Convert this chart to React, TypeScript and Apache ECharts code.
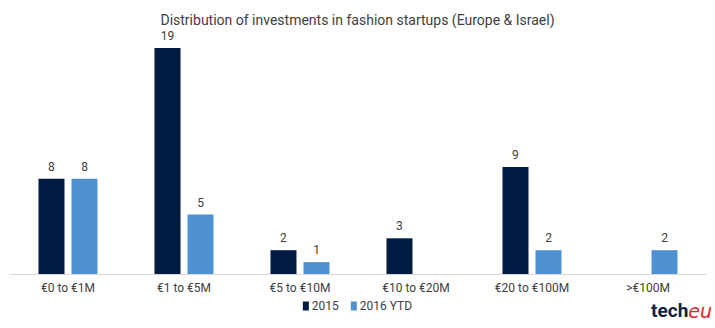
import React, { useEffect, useRef } from "react";
import * as echarts from "echarts";

const categories = ["€0 to €1M", "€1 to €5M", "€5 to €10M", "€10 to €20M", "€20 to €100M", ">€100M"];
const values2015 = [8, 19, 2, 3, 9, null];
const values2016 = [8, 5, 1, null, 2, 2];
const seriesNames = ["2015", "2016 YTD"];

export default function App() {
  const ref = useRef<HTMLDivElement>(null);
  useEffect(() => {
    if (!ref.current) return;
    const chart = echarts.init(ref.current, null, { renderer: "svg" });
    const font = "Roboto, 'Open Sans', sans-serif";
    chart.setOption({
      animation: false,
      backgroundColor: "#ffffff",
      title: {
        text: "Distribution of investments in fashion startups (Europe & Israel)",
        left: "center",
        top: 8,
        textStyle: { fontSize: 14, fontWeight: "normal", color: "#404040", fontFamily: font },
      },
      legend: {
        data: seriesNames,
        bottom: 11,
        left: "center",
        itemWidth: 6,
        itemHeight: 9,
        itemGap: 12,
        icon: "rect",
        textStyle: { fontSize: 12, color: "#404040", fontFamily: font, padding: [0, 0, 0, -2] },
      },
      grid: { left: 10, right: 9, top: 36, bottom: 54, containLabel: false },
      xAxis: {
        type: "category",
        data: categories,
        axisLine: { lineStyle: { color: "#d9d9d9", width: 1 } },
        axisTick: { show: false },
        axisLabel: { color: "#404040", fontSize: 12, fontFamily: font, margin: 8 },
      },
      yAxis: { type: "value", min: 0, max: 20, show: false, splitLine: { show: false } },
      series: [
        {
          name: seriesNames[0],
          type: "bar",
          data: values2015,
          barWidth: 26,
          barGap: "27%",
          itemStyle: { color: "#001b41" },
          label: { show: true, position: "top", color: "#404040", fontSize: 12, fontFamily: font, distance: 6 },
        },
        {
          name: seriesNames[1],
          type: "bar",
          data: values2016,
          barWidth: 26,
          itemStyle: { color: "#4f92cf" },
          label: { show: true, position: "top", color: "#404040", fontSize: 12, fontFamily: font, distance: 6 },
        },
      ],
      graphic: [
        {
          type: "text",
          right: 3,
          bottom: 8,
          style: {
            text: "{a|tech}{b|eu}",
            rich: {
              a: { fontSize: 19, fontWeight: "bold", fill: "#14213f", fontFamily: "Roboto, sans-serif" },
              b: { fontSize: 19, fontStyle: "italic", fill: "#e3242b", fontFamily: "'DejaVu Sans', sans-serif" },
            },
          },
        },
      ],
    });
    return () => chart.dispose();
  }, []);
  return <div ref={ref} style={{ width: 715, height: 328, position: "absolute", left: 0, top: 0 }} />;
}
